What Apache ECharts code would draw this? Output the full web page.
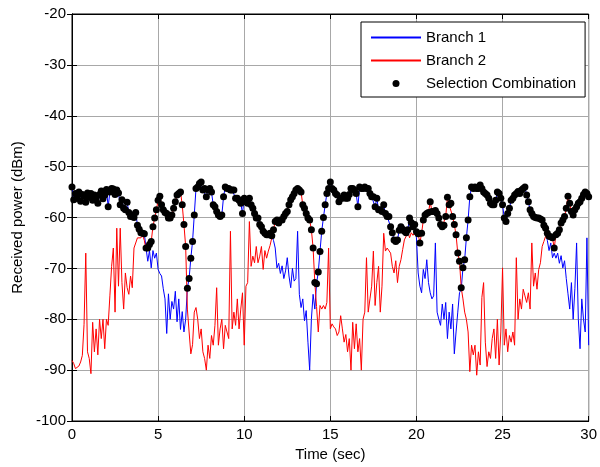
<!DOCTYPE html>
<html>
<head>
<meta charset="utf-8">
<script src="https://cdn.jsdelivr.net/npm/echarts@6/dist/echarts.min.js"></script>
<style>
html,body{margin:0;padding:0;background:#fff;}
#chart{width:600px;height:467px;}
</style>
</head>
<body>
<div id="chart"></div>
<script>
// Sampling step of the measurements (seconds)
const TIME_STEP = 0.1;

// Branch 1 received power (dBm), one value every 0.1 s from 0 to 30 s
const branch1 = [
-54.0,-56.5,-55.3,-56.2,-55.0,-56.8,-55.5,-55.8,-57.0,-55.2,
-56.0,-55.3,-56.6,-55.6,-56.2,-57.2,-55.5,-54.8,-56.3,-55.6,
-54.5,-57.9,-55.0,-54.3,-54.4,-55.5,-54.6,-55.2,-57.5,-56.5,
-58.2,-58.5,-57.0,-59.0,-59.8,-59.5,-60.0,-59.0,-61.5,-62.3,
-63.0,-63.1,-63.2,-66.0,-68.6,-66.5,-69.9,-66.5,-68.0,-67.0,
-70.2,-71.0,-71.5,-74.0,-76.0,-82.8,-75.0,-80.0,-76.5,-78.0,
-74.5,-80.5,-76.0,-82.0,-78.5,-82.5,-80.0,-73.9,-72.0,-68.0,
-64.7,-59.5,-54.3,-54.0,-53.3,-53.0,-54.6,-54.3,-55.9,-54.6,
-54.3,-55.0,-57.5,-57.9,-58.8,-59.5,-59.8,-59.5,-55.9,-54.0,
-54.3,-54.3,-54.6,-54.6,-54.6,-56.2,-56.2,-56.6,-57.2,-59.2,
-56.2,-56.9,-57.2,-56.2,-57.5,-58.2,-59.2,-60.1,-60.1,-61.4,
-61.8,-62.7,-63.1,-63.4,-63.4,-63.1,-63.6,-64.5,-66.0,-69.9,
-69.0,-71.0,-69.5,-72.0,-70.5,-67.9,-71.5,-73.8,-70.0,-72.5,
-72.0,-62.7,-75.1,-77.7,-76.0,-80.3,-78.3,-84.5,-90.0,-80.0,
-75.1,-78.0,-73.0,-70.7,-66.7,-62.7,-60.0,-57.5,-55.3,-54.3,
-53.0,-54.3,-54.6,-55.3,-55.6,-56.9,-56.2,-56.2,-55.6,-56.2,
-56.2,-55.5,-54.3,-54.3,-54.6,-55.3,-57.9,-54.0,-54.3,-54.3,
-54.0,-54.3,-54.3,-55.3,-55.9,-55.9,-57.9,-56.2,-58.5,-58.5,
-58.8,-57.5,-59.2,-59.8,-59.8,-61.8,-63.0,-64.4,-64.7,-64.4,
-62.5,-61.8,-62.3,-62.7,-63.0,-62.4,-60.1,-61.0,-61.8,-61.4,
-64.0,-70.9,-73.5,-74.8,-70.2,-72.0,-68.3,-72.8,-74.8,-76.0,
-75.4,-65.0,-78.6,-80.0,-81.2,-77.0,-80.0,-76.7,-83.8,-78.6,
-81.9,-77.0,-86.8,-82.5,-78.6,-74.8,-74.1,-69.9,-68.3,-64.0,
-60.5,-55.9,-54.0,-54.3,-54.0,-54.3,-54.3,-53.6,-54.3,-55.0,
-55.3,-55.6,-56.2,-57.2,-57.5,-57.5,-56.6,-55.0,-55.3,-56.2,
-57.5,-60.1,-60.8,-59.2,-58.2,-56.6,-56.2,-55.6,-55.3,-54.9,
-55.3,-54.6,-54.3,-54.0,-55.6,-56.9,-58.5,-59.2,-59.8,-60.0,
-60.1,-60.1,-60.3,-60.5,-61.5,-62.1,-64.5,-66.5,-65.0,-67.9,
-67.0,-68.0,-67.0,-69.0,-67.5,-69.9,-68.5,-72.0,-75.0,-78.0,
-72.8,-80.0,-74.0,-65.0,-80.0,-85.8,-76.0,-80.0,-82.5,-64.0,
-85.1
];

// Branch 2 received power (dBm), one value every 0.1 s from 0 to 30 s
const branch2 = [
-88.1,-88.7,-89.7,-89.5,-89.2,-88.4,-87.1,-81.0,-67.0,-86.4,
-87.7,-90.7,-80.6,-86.4,-81.9,-87.0,-80.0,-83.8,-80.0,-85.8,
-80.0,-81.2,-75.4,-69.6,-66.0,-78.6,-62.1,-73.5,-62.1,-72.8,
-78.0,-70.9,-73.8,-75.1,-71.5,-73.8,-66.0,-65.7,-64.0,-63.7,
-64.0,-63.5,-64.5,-66.3,-66.0,-65.3,-64.7,-61.8,-60.1,-58.5,
-56.6,-55.8,-57.5,-58.5,-59.0,-59.2,-60.1,-60.1,-59.5,-58.2,
-56.9,-55.6,-55.3,-55.0,-57.5,-61.4,-65.7,-78.0,-82.5,-86.8,
-85.0,-78.6,-77.7,-80.0,-83.8,-81.9,-86.4,-87.7,-90.0,-85.1,
-87.7,-83.2,-85.1,-81.2,-73.8,-85.1,-81.9,-80.0,-85.8,-81.2,
-82.5,-83.8,-62.7,-81.9,-78.6,-81.2,-76.0,-81.9,-78.0,-74.8,
-85.1,-73.5,-72.8,-60.8,-69.6,-67.6,-68.9,-65.7,-68.9,-67.6,
-65.7,-70.2,-66.5,-68.0,-66.6,-65.5,-64.0,-62.4,-60.8,-60.5,
-61.1,-60.5,-60.5,-59.8,-59.2,-58.8,-57.5,-56.5,-55.9,-55.3,
-54.6,-54.3,-54.6,-55.0,-57.5,-58.2,-59.2,-60.1,-60.5,-62.4,
-66.0,-72.8,-77.5,-82.5,-77.3,-78.0,-77.3,-78.0,-76.7,-66.0,
-81.9,-80.9,-81.5,-81.9,-83.2,-82.5,-79.3,-81.9,-84.5,-83.0,
-86.4,-83.8,-90.0,-80.6,-85.8,-80.9,-86.4,-83.8,-90.0,-80.0,
-78.6,-67.9,-78.6,-76.0,-73.5,-66.6,-77.3,-72.8,-69.6,-78.6,
-73.5,-63.1,-66.6,-66.0,-66.3,-67.0,-69.6,-70.9,-68.5,-72.8,
-69.6,-68.3,-66.3,-64.4,-63.7,-62.7,-64.0,-63.0,-63.5,-63.0,
-62.8,-63.2,-65.0,-63.1,-60.5,-59.5,-59.2,-59.0,-56.9,-58.8,
-58.8,-58.6,-59.2,-60.1,-61.4,-61.8,-61.5,-59.8,-56.0,-57.5,
-57.2,-59.8,-61.4,-63.4,-67.0,-68.6,-73.8,-76.0,-78.6,-80.0,
-82.5,-90.3,-85.1,-87.0,-85.1,-91.0,-86.4,-89.0,-75.7,-72.8,
-84.5,-89.3,-86.4,-87.7,-83.8,-81.9,-87.7,-80.0,-89.0,-82.5,
-69.9,-85.1,-81.9,-86.4,-83.2,-84.5,-82.5,-85.1,-67.9,-80.0,
-76.0,-78.0,-74.1,-75.4,-76.7,-74.8,-78.0,-65.0,-73.5,-70.9,
-74.1,-70.2,-68.9,-65.7,-64.7,-63.7,-63.1,-63.7,-63.8,-64.0,
-66.0,-63.4,-63.1,-62.4,-61.1,-60.5,-59.8,-58.2,-55.8,-57.2,
-58.8,-59.5,-58.5,-57.9,-57.2,-56.9,-56.2,-55.5,-55.0,-55.3,
-55.9
];

// Axis settings
const xRange = [0, 30];
const xStep = 5;
const yRange = [-100, -20];
const yStep = 10;
const seriesNames = ['Branch 1', 'Branch 2', 'Selection Combination'];

// Build series data
const times = branch1.map((_, i) => +(i * TIME_STEP).toFixed(1));
const b1Data = times.map((t, i) => [t, branch1[i]]);
const b2Data = times.map((t, i) => [t, branch2[i]]);
// Selection combination: at each sample the stronger branch is selected
const selData = times.map((t, i) => [t, Math.max(branch1[i], branch2[i])]);

const FONT = "'Liberation Sans', Arial, Helvetica, sans-serif";
const chart = echarts.init(document.getElementById('chart'), null, {renderer: 'canvas'});

const tickStyle = {show: true, inside: true, length: 5, lineStyle: {color: '#000', width: 1}};
const lineAxis = {show: true, lineStyle: {color: '#000', width: 1}};

chart.setOption({
  animation: false,
  backgroundColor: '#fff',
  textStyle: {fontFamily: FONT},
  grid: {left: 72, right: 8, top: 14, bottom: 42, show: true, borderColor: '#000', borderWidth: 1, backgroundColor: '#fff'},
  legend: {
    orient: 'vertical',
    left: 361, top: 22,
    padding: [8, 9, 6, 9],
    itemWidth: 50, itemHeight: 7, itemGap: 8,
    borderColor: '#000', borderWidth: 1, backgroundColor: '#fff',
    textStyle: {fontSize: 15, color: '#000', fontFamily: FONT},
    data: [
      {name: seriesNames[0], itemStyle: {opacity: 0}},
      {name: seriesNames[1], itemStyle: {opacity: 0}},
      {name: seriesNames[2], itemStyle: {color: '#000', opacity: 1}}
    ]
  },
  xAxis: [{
    type: 'value', min: xRange[0], max: xRange[1], interval: xStep,
    name: 'Time (sec)', nameLocation: 'middle', nameGap: 26,
    nameTextStyle: {fontSize: 15, color: '#000', fontFamily: FONT},
    axisLine: lineAxis, axisTick: tickStyle,
    axisLabel: {fontSize: 15, color: '#000', margin: 6, fontFamily: FONT},
    splitLine: {show: true, lineStyle: {color: '#a8a8a8', width: 1}}
  }, {
    type: 'value', min: xRange[0], max: xRange[1], interval: xStep, position: 'top',
    axisLine: lineAxis, axisTick: tickStyle, axisLabel: {show: false}, splitLine: {show: false}
  }],
  yAxis: [{
    type: 'value', min: yRange[0], max: yRange[1], interval: yStep,
    name: 'Received power (dBm)', nameLocation: 'middle', nameGap: 44,
    nameTextStyle: {fontSize: 15, color: '#000', fontFamily: FONT},
    axisLine: lineAxis, axisTick: tickStyle,
    axisLabel: {fontSize: 15, color: '#000', margin: 6, fontFamily: FONT},
    splitLine: {show: true, lineStyle: {color: '#a8a8a8', width: 1}}
  }, {
    type: 'value', min: yRange[0], max: yRange[1], interval: yStep, position: 'right',
    axisLine: lineAxis, axisTick: tickStyle, axisLabel: {show: false}, splitLine: {show: false}
  }],
  series: [{
    name: seriesNames[0], type: 'line', data: b1Data, symbol: 'none', showSymbol: false,
    lineStyle: {color: '#0000ff', width: 1}, itemStyle: {color: '#0000ff'}, z: 2
  }, {
    name: seriesNames[1], type: 'line', data: b2Data, symbol: 'none', showSymbol: false,
    lineStyle: {color: '#ff0000', width: 1}, itemStyle: {color: '#ff0000'}, z: 3
  }, {
    name: seriesNames[2], type: 'scatter', data: selData, symbol: 'circle', symbolSize: 7,
    itemStyle: {color: '#000', opacity: 1}, z: 4
  }]
});
</script>
</body>
</html>
